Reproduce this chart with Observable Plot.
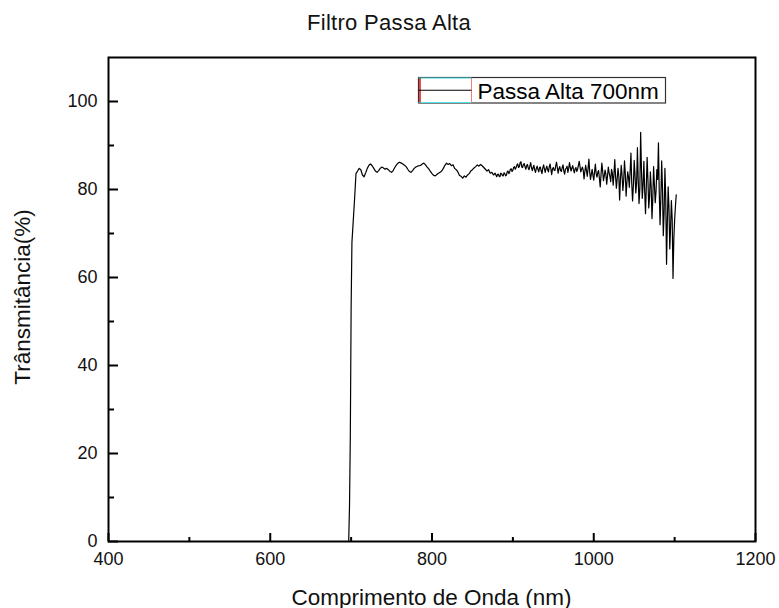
<!DOCTYPE html>
<html>
<head>
<meta charset="utf-8">
<script src="https://cdn.jsdelivr.net/npm/d3@7"></script>
<script src="https://cdn.jsdelivr.net/npm/@observablehq/plot@0.6"></script>
<style>
  html, body { margin: 0; padding: 0; background: #fff; }
  #chart { width: 779px; height: 608px; }
</style>
</head>
<body>
<div id="chart"></div>
<script>
// Texts
const chartTitle = "Filtro Passa Alta";
const xLabel = "Comprimento de Onda (nm)";
const yLabel = "Trânsmitância(%)";
const seriesName = "Passa Alta 700nm";

// Axis ticks
const xMajorTicks = [400, 600, 800, 1000, 1200];
const xMinorTicks = [500, 700, 900, 1100];
const yMajorTicks = [0, 20, 40, 60, 80, 100];
const yMinorTicks = [10, 30, 50, 70, 90];

// Measured spectrum: wavelength (nm)
const wavelength = [
  696, 697, 698, 699, 700, 701, 702,
  704, 706, 708, 710, 712, 714, 716, 718, 720, 722,
  724, 726, 728, 730, 732, 734, 736, 738, 740, 742,
  744, 746, 748, 750, 752, 754, 756, 758, 760, 762,
  764, 766, 768, 770, 772, 774, 776, 778, 780, 782,
  784, 786, 788, 790, 792, 794, 796, 798, 800, 802,
  804, 806, 808, 810, 812, 814, 816, 818, 820, 822,
  824, 826, 828, 830, 832, 834, 836, 838, 840, 842,
  844, 846, 848, 850, 852, 854, 856, 858, 860, 862,
  864, 866, 868, 870, 872, 874, 876, 878,
  880, 881, 882, 883, 884, 885, 886, 887, 888, 889,
  890, 891, 892, 893, 894, 895, 896, 897, 898, 899,
  900, 901, 902, 903, 904, 905, 906, 907, 908, 909,
  910, 911, 912, 913, 914, 915, 916, 917, 918, 919,
  920, 921, 922, 923, 924, 925, 926, 927, 928, 929,
  930, 931, 932, 933, 934, 935, 936, 937, 938, 939,
  940, 941, 942, 943, 944, 945, 946, 947, 948, 949,
  950, 951, 952, 953, 954, 955, 956, 957, 958, 959,
  960, 961, 962, 963, 964, 965, 966, 967, 968, 969,
  970, 971, 972, 973, 974, 975, 976, 977, 978, 979,
  980, 981, 982, 983, 984, 985, 986, 987, 988, 989,
  990, 991, 992, 993, 994, 995, 996, 997, 998, 999,
  1000, 1001, 1002, 1003, 1004, 1005, 1006, 1007, 1008, 1009,
  1010, 1011, 1012, 1013, 1014, 1015, 1016, 1017, 1018, 1019,
  1020, 1021, 1022, 1023, 1024, 1025, 1026, 1027, 1028, 1029,
  1030, 1031, 1032, 1033, 1034, 1035, 1036, 1037, 1038, 1039,
  1040, 1041, 1042, 1043, 1044, 1045, 1046, 1047, 1048, 1049,
  1050, 1051, 1052, 1053, 1054, 1055, 1056, 1057, 1058, 1059,
  1060, 1061, 1062, 1063, 1064, 1065, 1066, 1067, 1068, 1069,
  1070, 1071, 1072, 1073, 1074, 1075, 1076, 1077, 1078, 1079,
  1080, 1081, 1082, 1083, 1084, 1085, 1086, 1087, 1088, 1089,
  1090, 1091, 1092, 1093, 1094, 1095, 1096, 1097, 1098, 1099,
  1100, 1101, 1102
];

// Measured spectrum: transmittance (%)
const transmittance = [
  0, 0, 8, 24, 53, 68, 71,
  77, 83.6, 84.2, 84.8, 84.5, 83.3, 82.9, 83.8, 84.8, 85.5,
  85.8, 85.4, 84.8, 84.2, 83.9, 84.3, 84.8, 85.1, 84.9, 84.6,
  84.8, 84.5, 84.1, 83.9, 84.3, 85.0, 85.6, 86.0, 86.2, 86.0,
  85.8, 85.5, 85.2, 84.6, 84.1, 83.9, 84.3, 84.8, 85.1, 85.3,
  85.4, 85.5, 85.8, 86.0, 85.6, 85.1, 84.7, 84.1, 83.6, 83.2,
  83.1, 83.4, 83.7, 83.9, 84.2, 84.8, 85.5, 86.0, 85.7, 85.9,
  85.4, 85.6, 84.8, 84.5, 84.0, 83.2, 83.0, 82.6, 83.1, 82.8,
  83.3, 83.6, 84.2, 84.5, 84.9, 85.2, 85.6, 85.3, 85.7, 85.4,
  85.0, 84.6, 84.2, 84.5, 83.7, 83.9, 83.3, 83.7,
  82.9, 83.4, 83.5, 83.0, 82.9, 83.7, 83.6, 83.2, 83.1, 83.8,
  83.6, 83.1, 83.3, 84.0, 84.2, 83.6, 84.0, 84.6, 84.7, 84.1,
  84.4, 85.0, 85.2, 84.6, 85.0, 85.6, 85.8, 85.0, 85.2, 86.1,
  86.3, 85.1, 85.0, 85.7, 85.9, 85.2, 84.6, 85.4, 85.7, 84.9,
  84.5, 85.3, 86.1, 85.0, 84.3, 85.0, 85.5, 84.4, 83.9, 84.8,
  85.3, 84.6, 84.0, 85.0, 85.1, 84.2, 83.6, 84.9, 85.6, 84.7,
  83.9, 84.8, 85.3, 84.5, 84.0, 85.2, 85.8, 84.6, 83.4, 84.7,
  85.0, 84.4, 84.3, 85.4, 86.2, 84.9, 83.7, 84.8, 85.2, 84.3,
  84.1, 85.0, 85.6, 84.2, 83.5, 84.6, 84.9, 85.3, 83.9, 84.8,
  86.1, 85.0, 84.2, 84.9, 85.4, 84.5, 83.8, 84.7, 85.0, 84.1,
  84.6, 85.5, 86.4, 85.2, 84.0, 84.6, 85.1, 84.4, 82.4, 84.1,
  85.5, 84.3, 83.0, 84.8, 86.9, 84.0, 82.3, 83.5, 84.6, 83.2,
  82.1, 84.0, 85.8, 83.6, 82.8, 83.9, 84.3, 82.5, 80.6, 83.4,
  86.0, 84.2, 82.0, 83.1, 84.4, 83.5, 81.2, 83.0, 85.1, 83.8,
  83.0, 81.8, 84.6, 83.7, 81.0, 83.5, 86.8, 82.9, 80.3, 82.5,
  84.8, 83.0, 77.6, 82.4, 85.5, 83.2, 79.8, 82.0, 86.5, 83.7,
  78.5, 81.6, 84.0, 82.8, 80.5, 84.2, 88.3, 81.3, 77.4, 80.9,
  86.6, 83.4, 79.2, 81.5, 89.5, 82.1, 76.8, 80.2, 93.0, 84.6,
  78.0, 81.0, 86.4, 79.6, 74.5, 80.8, 87.3, 82.2, 75.8, 78.4,
  84.0, 80.6, 73.4, 77.9, 85.2, 81.1, 77.0, 79.5, 84.5, 82.3,
  90.6, 79.4, 72.0, 78.2, 86.5, 80.0, 69.5, 74.8, 84.8, 78.1,
  63.0, 72.6, 80.6, 75.9, 66.5, 71.4, 77.5, 73.2, 59.8, 68.7,
  73.0, 76.2, 78.8
];

const spectrum = wavelength.map((nm, i) => ({nm, t: transmittance[i]}));

const W = 779, H = 608;
const M = {top: 57, right: 24, bottom: 67, left: 108};
const frameW = W - M.left - M.right;
const frameH = H - M.top - M.bottom;
const font = "'Liberation Sans', Arial, Helvetica, sans-serif";

const plot = Plot.plot({
  width: W,
  height: H,
  marginTop: M.top,
  marginRight: M.right,
  marginBottom: M.bottom,
  marginLeft: M.left,
  style: {fontFamily: font, fontSize: "18px", color: "#111", background: "#fff", overflow: "visible"},
  x: {domain: [400, 1200]},
  y: {domain: [0, 110]},
  marks: [
    Plot.line(spectrum, {x: "nm", y: "t", stroke: "#000", strokeWidth: 1.2}),
    // inward ticks
    Plot.tickX(xMajorTicks, {x: d => d, insetTop: frameH - 8, stroke: "#000", strokeWidth: 2}),
    Plot.tickX(xMinorTicks, {x: d => d, insetTop: frameH - 4, stroke: "#000", strokeWidth: 2}),
    Plot.tickY(yMajorTicks, {y: d => d, insetRight: frameW - 10, stroke: "#000", strokeWidth: 2}),
    Plot.tickY(yMinorTicks, {y: d => d, insetRight: frameW - 6, stroke: "#000", strokeWidth: 2}),
    Plot.axisX(xMajorTicks, {tickSize: 0, tickPadding: 11, label: null, tickFormat: d => String(d)}),
    Plot.axisY(yMajorTicks, {tickSize: 0, tickPadding: 11, label: null, tickFormat: d => String(d)}),
    Plot.frame({stroke: "#000", strokeWidth: 2})
  ]
});

document.getElementById("chart").appendChild(plot);

const svg = d3.select(plot);

// Title
svg.append("text")
  .attr("x", 389).attr("y", 22)
  .attr("text-anchor", "middle").attr("dominant-baseline", "central")
  .attr("font-family", font).attr("font-size", 22).attr("letter-spacing", 0.3).attr("fill", "#111")
  .text(chartTitle);

// Axis titles
svg.append("text")
  .attr("x", M.left + frameW / 2).attr("y", 597)
  .attr("text-anchor", "middle").attr("dominant-baseline", "central")
  .attr("font-family", font).attr("font-size", 22.5).attr("fill", "#111")
  .text(xLabel);

svg.append("text")
  .attr("transform", `translate(22,${M.top + frameH / 2 - 2}) rotate(-90)`)
  .attr("text-anchor", "middle").attr("dominant-baseline", "central")
  .attr("font-family", font).attr("font-size", 22.5).attr("fill", "#111")
  .text(yLabel);

// Legend box
const lg = svg.append("g").attr("transform", "translate(418.5,77.5)");
const lw = 247, lh = 25.5, sw = 53;
lg.append("rect").attr("width", lw).attr("height", lh)
  .attr("fill", "#fff").attr("stroke", "#333").attr("stroke-width", 1.2);
lg.append("line").attr("x1", 0).attr("x2", sw).attr("y1", 0.5).attr("y2", 0.5)
  .attr("stroke", "#4fe3e8").attr("stroke-width", 1.2);
lg.append("line").attr("x1", 0).attr("x2", sw).attr("y1", lh - 0.5).attr("y2", lh - 0.5)
  .attr("stroke", "#4fe3e8").attr("stroke-width", 1.2);
lg.append("line").attr("x1", 1.5).attr("x2", 1.5).attr("y1", 0.5).attr("y2", lh - 0.5)
  .attr("stroke", "#e01010").attr("stroke-width", 1.5);
lg.append("line").attr("x1", sw).attr("x2", sw).attr("y1", 0.5).attr("y2", lh - 0.5)
  .attr("stroke", "#f08080").attr("stroke-width", 1);
lg.append("line").attr("x1", 0).attr("x2", sw).attr("y1", lh / 2).attr("y2", lh / 2)
  .attr("stroke", "#000").attr("stroke-width", 1.2);
lg.append("text").attr("x", sw + 6).attr("y", lh / 2 + 1)
  .attr("text-anchor", "start").attr("dominant-baseline", "central")
  .attr("font-family", font).attr("font-size", 22.5).attr("fill", "#000")
  .text(seriesName);
</script>
</body>
</html>
